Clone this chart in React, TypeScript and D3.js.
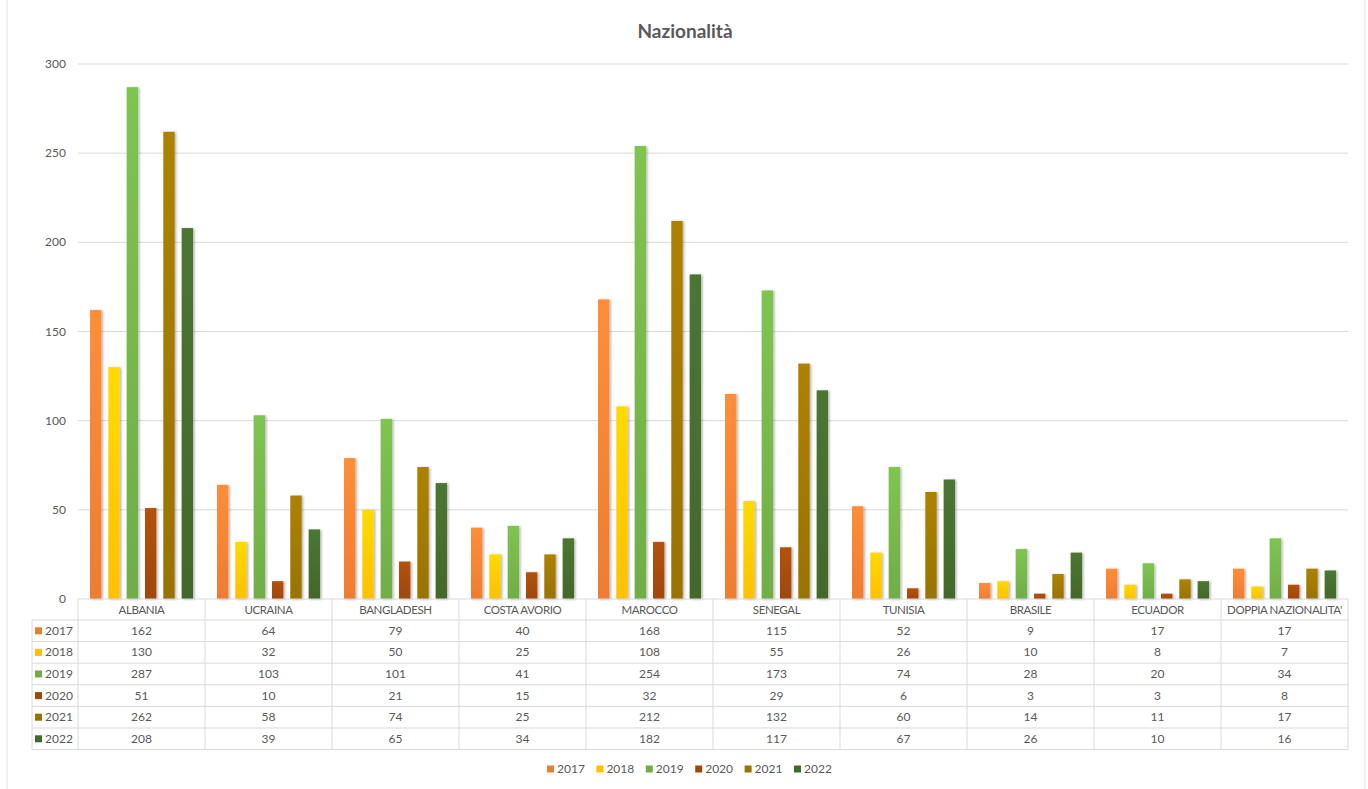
import React from "react";
import * as d3 from "d3";

const categories = ["ALBANIA", "UCRAINA", "BANGLADESH", "COSTA AVORIO", "MAROCCO", "SENEGAL", "TUNISIA", "BRASILE", "ECUADOR", "DOPPIA NAZIONALITA'"];
const years = ["2017", "2018", "2019", "2020", "2021", "2022"];
const v2017 = [162, 64, 79, 40, 168, 115, 52, 9, 17, 17];
const v2018 = [130, 32, 50, 25, 108, 55, 26, 10, 8, 7];
const v2019 = [287, 103, 101, 41, 254, 173, 74, 28, 20, 34];
const v2020 = [51, 10, 21, 15, 32, 29, 6, 3, 3, 8];
const v2021 = [262, 58, 74, 25, 212, 132, 60, 14, 11, 17];
const v2022 = [208, 39, 65, 34, 182, 117, 67, 26, 10, 16];
const yTicks = [0, 50, 100, 150, 200, 250, 300];
const colors = ["#ED7D31", "#FFC000", "#70AD47", "#9E480E", "#997300", "#43682B"];

const series = [v2017, v2018, v2019, v2020, v2021, v2022];

const W = 1368, H = 789;
const FONT = "Lato, 'Open Sans', 'Liberation Sans', sans-serif";

export default function App() {
  const x = d3.scaleBand<string>().domain(categories).range([78, 1348]).padding(0);
  const bw = x.bandwidth();
  const inner = d3.scaleBand<string>().domain(years).range([12, bw - 12]).paddingInner(0.38).paddingOuter(0);
  const y = d3.scaleLinear().domain([0, 300]).range([599, 64]);
  const rowH = 21.6;
  const tableTop = 599;
  const headerH = 21;
  const tableLeft = 32;
  const tableRight = 1348;
  const tableBottom = tableTop + headerH + rowH * years.length;
  const legendX = d3.scalePoint<string>().domain(years).range([547, 794]);

  return (
    <svg width={W} height={H} style={{ position: "absolute", left: 0, top: 0, background: "#fff" }} fontFamily={FONT}>
      <defs>
        {colors.map((c, i) => (
          <linearGradient key={i} id={`g${i}`} x1="0" y1="0" x2="0" y2="1">
            <stop offset="0" stopColor={d3.color(c)!.brighter(0.35).formatHex()} />
            <stop offset="1" stopColor={c} />
          </linearGradient>
        ))}
        <filter id="sh" x="-50%" y="-10%" width="200%" height="120%">
          <feDropShadow dx="1.5" dy="0.5" stdDeviation="1.2" floodColor="#000" floodOpacity="0.3" />
        </filter>
      </defs>
      <rect x={7} y={-2} width={1358} height={H + 4} fill="#fff" stroke="#e3e3e3" strokeWidth={1} />
      <text x={685} y={38} textAnchor="middle" fontSize={19} fontWeight="bold" fill="#595959">Nazionalità</text>
      {yTicks.map((t) => (
        <g key={t}>
          {t > 0 && <line x1={78} x2={1348} y1={y(t)} y2={y(t)} stroke="#d9d9d9" strokeWidth={1} />}
          <text x={66} y={y(t) + 4} textAnchor="end" fontSize={12} fill="#595959">{t}</text>
        </g>
      ))}
      {categories.map((c, ci) => (
        <g key={c} transform={`translate(${x(c)},0)`}>
          {years.map((yr, si) => (
            <rect key={yr} x={inner(yr)} width={inner.bandwidth()} y={y(series[si][ci])}
              height={y(0) - y(series[si][ci])} fill={`url(#g${si})`} filter="url(#sh)" />
          ))}
        </g>
      ))}
      {/* table */}
      <g stroke="#d9d9d9" strokeWidth={1} fill="none">
        <line x1={78} x2={tableRight} y1={tableTop} y2={tableTop} />
        <line x1={tableLeft} x2={tableRight} y1={tableTop + headerH} y2={tableTop + headerH} />
        {years.map((yr, i) => (
          <line key={yr} x1={tableLeft} x2={tableRight} y1={tableTop + headerH + rowH * (i + 1)} y2={tableTop + headerH + rowH * (i + 1)} />
        ))}
        <line x1={tableLeft} x2={tableLeft} y1={tableTop + headerH} y2={tableBottom} />
        {categories.map((c) => (
          <line key={c} x1={x(c)} x2={x(c)} y1={tableTop} y2={tableBottom} />
        ))}
        <line x1={tableRight} x2={tableRight} y1={tableTop} y2={tableBottom} />
      </g>
      {categories.map((c) => (
        <text key={c} x={x(c)! + bw / 2} y={tableTop + 15} textAnchor="middle" fontSize={11.5} letterSpacing={-0.4} fill="#595959">{c}</text>
      ))}
      {years.map((yr, si) => {
        const ry = tableTop + headerH + rowH * si;
        return (
          <g key={yr}>
            <rect x={35} y={ry + rowH / 2 - 3.5} width={7} height={7} fill={colors[si]} />
            <text x={45} y={ry + rowH / 2 + 4} fontSize={12} fill="#595959">{yr}</text>
            {categories.map((c, ci) => (
              <text key={c} x={x(c)! + bw / 2} y={ry + rowH / 2 + 4} textAnchor="middle" fontSize={12} fill="#595959">{series[si][ci]}</text>
            ))}
          </g>
        );
      })}
      {years.map((yr, si) => (
        <g key={yr} transform={`translate(${legendX(yr)},769)`}>
          <rect x={0} y={-3.5} width={7} height={7} fill={colors[si]} />
          <text x={10} y={4} fontSize={12} fill="#595959">{yr}</text>
        </g>
      ))}
    </svg>
  );
}
